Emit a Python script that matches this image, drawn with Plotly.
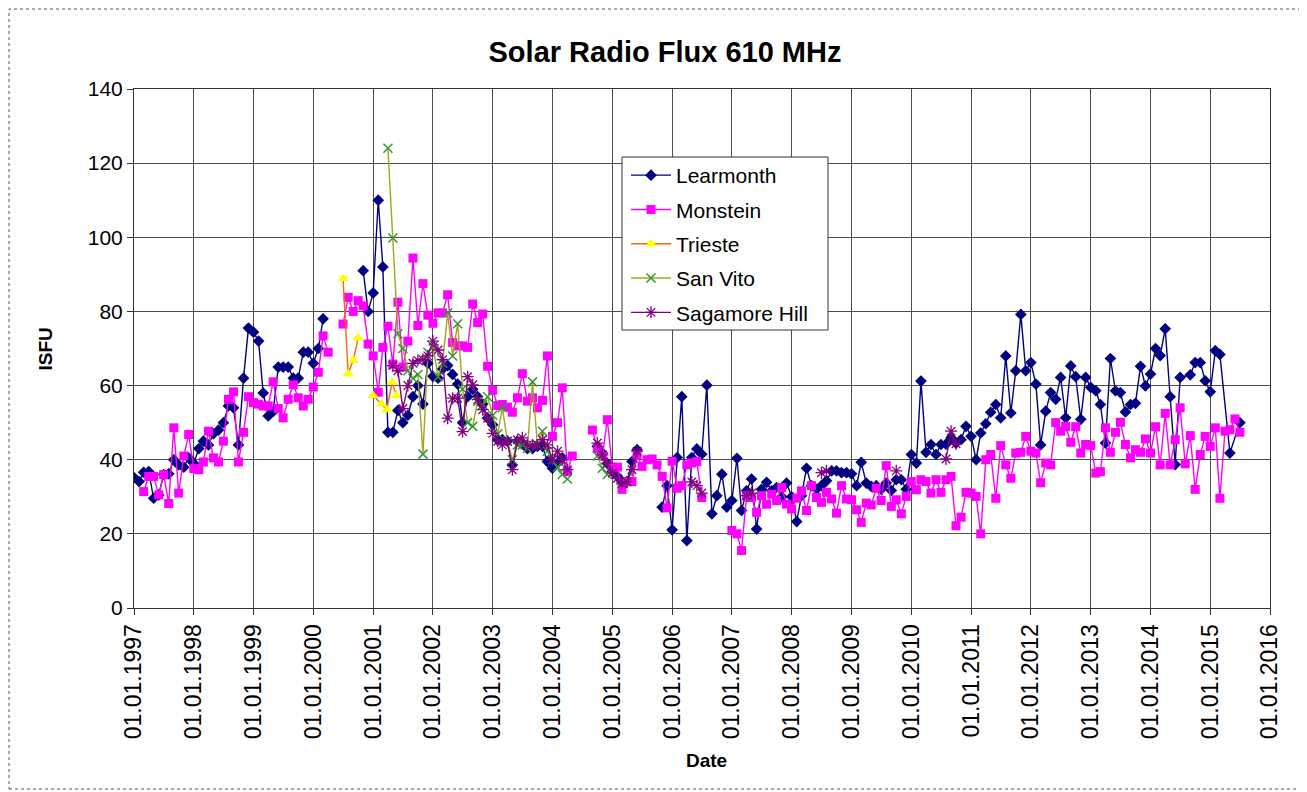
import plotly.graph_objects as go
import pandas as pd

B = None      # break in the line (no connection across)
S = "skip"    # month without a reading, line continues across it

# ---------------- data (ISFU) ----------------
learmonth_start = "1997-01-01"
learmonth = [
    35.2, 34.1, 36.6, 36.8, 29.6, 30.5, 36, 36.2, 40, 38.6, 38, 40.5,          # 1997
    39, 43, 45, 44, 47, 48, 50, 54.5, 54, 44, 62, 75.5,                       # 1998
    74.4, 72, 58, 51.8, 53, 65, 65, 65, 62, 62, 69, 69,                       # 1999
    66, 70, 78, B, B, B, B, B, B, B, 91, 80,                                  # 2000
    85, 110, 92, 47.4, 47.4, 53.3, 50, 52, 57, 60, 55, 66,                    # 2001
    62.5, 62, 64.5, 65.4, 63, 60.4, 50, 57, 59, 57, 55, 51.2,                 # 2002
    49.4, 45.4, 45.4, 45, 38.6, 45, 44.5, 43, 43, 43.6, 43.6, 39.5,           # 2003
    37.7, 39.1, 40.5, B, B, B, B, B, B, 43.6, 41.8, 39,                       # 2004
    36.8, 35.5, 34.1, 34.1, 39.5, 42.7, B, B, B, B, 27.2, 33,                 # 2005
    21.1, 40.6, 57, 18.2, 40.6, 42.9, 41.5, 60.1, 25.4, 30.3, 36.1, 27.2,     # 2006
    29, 40.4, 26.3, 31.6, 34.8, 21.3, 32, 33.9, 31.6, 32.5, 30, 33.7,         # 2007
    30, 23.3, 30.3, 37.7, 33, 32, 33, 34.3, 37, 37, 36.5, 36.5,               # 2008
    36.2, 33, 39.3, 33.7, 32.8, 33, 32, 33.7, 31.7, 34.6, 34.6, 32,           # 2009
    41.4, 39.1, 61.2, 42, 44.1, 41.4, 44.1, 44.2, 45.9, 44.5, 45.4, 49,       # 2010
    46.3, 40, 47.2, 49.7, 52.8, 54.9, 51.3, 68, 52.6, 64, 79.2, 64,           # 2011
    66.2, 60.4, 44, 53.1, 58.1, 56.3, 62.2, 51.3, 65.3, 62.4, 50.9, 62.2,     # 2012
    59.5, 58.6, 54.9, 44.5, 67.3, 58.6, 58.1, 52.9, 54.9, 55.2, 65.2, 59.9,   # 2013
    63.1, 70, 68.1, 75.3, 57, 38.7, 62.2, S, 62.9, 66.2, 66.2, 61.3,          # 2014
    58.3, 69.4, 68.4, S, 41.8, S, 50,                                         # 2015
]

monstein_start = "1997-01-01"
monstein = [
    B, B, 31.4, 35.5, 35.5, 30.5, 36, 28.2, 48.6, 31, 41, 46.8,               # 1997
    37.6, 37.3, 39.4, 47.7, 40.5, 39.4, 45, 56.3, 58.3, 39.4, 47.4, 57,       # 1998
    55.4, 55, 54.5, 54.5, 61, 53.8, 51.3, 56.3, 60.2, 56.7, 54.5, 56.3,       # 1999
    59.6, 63.6, 73.4, 69, B, B, 76.6, 83.8, 80, 82.9, 81.5, 71.2,             # 2000
    68, 58.2, 70.3, 76, 65.8, 82.5, 65, 72, 94.4, 76.2, 87.5, 79,             # 2001
    76.8, 79.6, 79.6, 84.5, 71.6, 70.7, 70.7, 70.3, 82, 77, 79.3, 65.2,       # 2002
    58.7, 54.6, 54.9, 54.2, 52.8, 56.7, 63.2, 55.8, 56.7, 54, 56, 68,         # 2003
    46.3, 50, 59.4, 36.8, 41, B, B, B, 48, 43, 41, 50.8,                      # 2004
    38, 38, 32, 34.1, 34.1, 41.3, 38.2, 40, 40.2, 38.6, 35.5, 27,             # 2005
    39.6, 32.3, 33, 38.6, 39.1, 39.5, 29.8, B, B, B, B, B,                    # 2006
    20.9, 20, 15.5, 30.3, 29.8, 25.8, 30.3, 28, 30.7, 29, 32.5, 28,           # 2007
    26.7, 29.6, 31.6, 26.3, 33, 29.8, 28.5, 31.2, 29.4, 25.6, 33, 29.4,       # 2008
    29.2, 26.5, 23.1, 28.3, 27.8, 32.3, 29, 38.4, 27.4, 29.2, 25.4, 30.1,     # 2009
    34.1, 31.9, 34.6, 34.1, 31, 34.6, 31.2, 34.6, 35.5, 22.2, 24.5, 31.2,     # 2010
    31, 30.1, 20, 40, 41.4, 29.6, 43.8, 38.6, 35, 41.8, 42, 46.3,             # 2011
    42.3, 41.8, 33.8, 39.1, 38.6, 50, 47.7, 49, 44.7, 48.9, 41.8, 44.1,       # 2012
    43.8, 36.4, 36.8, 48.6, 42, 47.4, 50.1, 44.1, 40.5, 42.7, 42, 45.6,       # 2013
    41.8, 48.9, 38.6, 52.5, 38.6, 45.4, 54, 38.9, 46.5, 32, 41.4, 46.3,       # 2014
    43.6, 48.6, 29.6, 47.7, 48.1, 51, 47.4,                                   # 2015
]

trieste_dates = ["2000-07-01", "2000-08-01", "2000-09-01", "2000-10-01", "2000-11-15",
                 "2001-01-01", "2001-02-20", "2001-03-25", "2001-04-27", "2001-05-22"]
trieste_vals = [88.9, 63.2, 66.8, 72.8, B, 57.3, 55, 53.5, 60.9, 57.3]

sanvito_dates = ["2001-04", "2001-05", "2001-06", "2001-07", "2001-08", "2001-09", "2001-10",
                 "2001-11", "2001-12", "2002-01", "2002-02", "2002-03", "2002-04", "2002-05",
                 "2002-06", "2002-07", "2002-08", "2002-09", "2002-10", "2002-11", "2002-12",
                 "2003-01", "2003-02", "2003-03", "2003-04", "2003-05", "2003-06", "2003-07",
                 "2003-08", "2003-09", "2003-10", "2003-11", "2003-12", "2004-01", "2004-02",
                 "2004-03", "2004-04", "2004-07", "2004-10", "2004-11", "2004-12"]
sanvito_vals = [124, 99.8, 74, 70, 64, 62, 63, 41.5, 69, 70.5, 62.4, 66, 79.6, 68,
                76.7, 59, 50, 49, 55.7, 54.8, 57, 52, 47, 54, 45, 40, 44, 44,
                43, 61, 44, 47.7, 42.3, 40, 38, 36, 34.8, B, 41, 37.7, 36]

sagamore_dates = ["2001-05", "2001-06", "2001-07", "2001-08", "2001-09", "2001-10", "2001-11",
                  "2001-12", "2002-01", "2002-02", "2002-03", "2002-04", "2002-05", "2002-06",
                  "2002-07", "2002-08", "2002-09", "2002-10", "2002-11", "2002-12", "2003-01",
                  "2003-02", "2003-03", "2003-04", "2003-05", "2003-06", "2003-07", "2003-08",
                  "2003-09", "2003-10", "2003-11", "2003-12", "2004-01", "2004-02", "2004-03",
                  "2004-04", "2004-07", "2004-10", "2004-11", "2004-12", "2005-01", "2005-02",
                  "2005-03", "2005-04", "2005-05", "2005-06", "2005-10", "2006-05", "2006-06",
                  "2006-07", "2006-10", "2007-04", "2007-05", "2007-10", "2008-07", "2008-08",
                  "2009-01", "2009-10", "2010-01", "2010-08", "2010-09", "2010-10"]
sagamore_vals = [65.4, 64, 53.8, 60, 66, 66.8, 67, 68, 72, 69.6, 67, 51.2, 56.6, 56.6,
                 47.6, 62.4, 60.2, 56.2, 53.5, 51.2, 47.1, 45, 44, 45, 37.3, 45.4, 45.9, 44,
                 44, 44, 45.4, 44, 40, 42.3, 40, 37.3, B, 44.5, 41.3, 39, 36.4, 35,
                 33.5, 34, 37.3, 42.3, B, 34, 33, 31, B, 30.3, 31, B, 36.5, 37,
                 B, 37, B, 40.2, 47.7, 44.3]


def monthly(start, vals):
    dates = pd.date_range(start, periods=len(vals), freq="MS")
    xs, ys = [], []
    for d, v in zip(dates, vals):
        if isinstance(v, str):
            continue
        xs.append(d)
        ys.append(v)
    return xs, ys


FONT = "Liberation Sans, Arial, sans-serif"

fig = go.Figure()

lx, ly = monthly(learmonth_start, learmonth)
mx, my = monthly(monstein_start, monstein)

series = [
    dict(name="Learmonth", x=lx, y=ly, line=dict(color="#000080", width=1.4),
         marker=dict(symbol="diamond", size=9, color="#000080", line=dict(width=0))),
    dict(name="Monstein", x=mx, y=my, line=dict(color="#FF00FF", width=1.4),
         marker=dict(symbol="square", size=9, color="#FF00FF", line=dict(width=0))),
    dict(name="Trieste", x=trieste_dates, y=trieste_vals, line=dict(color="#FF6600", width=1.4),
         marker=dict(symbol="triangle-up", size=10, color="#FFFF00", line=dict(width=0))),
    dict(name="San Vito", x=sanvito_dates, y=sanvito_vals, line=dict(color="#A3A31F", width=1.4),
         marker=dict(symbol="x-thin", size=9, color="#339933", line=dict(width=1.5, color="#339933"))),
    dict(name="Sagamore Hill", x=sagamore_dates, y=sagamore_vals, line=dict(color="#800080", width=1.4),
         marker=dict(symbol="asterisk", size=10, color="#800080", line=dict(width=1.3, color="#800080"))),
]

for i, s in enumerate(series):
    fig.add_trace(go.Scatter(mode="lines+markers", connectgaps=False,
                             legendgroup=f"g{i}", **s))

# page offset of the plot div (body margin) and target pixel geometry of the page
OFF = 8
PL, PR, PT, PB = 134, 1270, 89, 608          # plot area on the page
W, H = 1307 - OFF, 792 - OFF
L, T = PL - OFF, PT - OFF
R, Bm = W - (PR - OFF), H - (PB - OFF)
pw, ph = W - L - R, H - T - Bm


def px_x(p):
    return (p - PL) / pw


def px_y(p):
    return (PB - p) / ph


fig.update_layout(
    width=W, height=H,
    margin=dict(l=L, r=R, t=T, b=Bm),
    paper_bgcolor="white", plot_bgcolor="white",
    font=dict(family=FONT, color="black"),
    title=dict(text="<b>Solar Radio Flux 610 MHz</b>", x=px_x(665), xanchor="center", xref="paper",
               y=1 - (52 - OFF) / H, yanchor="middle", font=dict(size=29, family=FONT)),
    showlegend=True,
    legend=dict(x=px_x(626), y=px_y(155), xanchor="left", yanchor="top",
                borderwidth=0, bgcolor="rgba(0,0,0,0)", itemwidth=40,
                font=dict(size=21, family=FONT), traceorder="grouped", tracegroupgap=4),
    xaxis=dict(type="date", range=["1997-01-01", "2016-01-01"],
               tick0="1997-01-01", dtick="M12", tickformat="%d.%m.%Y",
               tickangle=-90, ticks="outside", ticklen=6, tickcolor="#333",
               tickfont=dict(size=23, family=FONT),
               showgrid=True, gridcolor="#4d4d4d", gridwidth=1,
               showline=True, linecolor="#333333", linewidth=1, mirror=True,
               zeroline=False),
    yaxis=dict(range=[0, 140], dtick=20, ticks="outside", ticklen=6, tickcolor="#333",
               tickfont=dict(size=21, family=FONT),
               showgrid=True, gridcolor="#4d4d4d", gridwidth=1,
               showline=True, linecolor="#333333", linewidth=1, mirror=True,
               zeroline=False),
    annotations=[
        dict(text="<b>ISFU</b>", xref="paper", yref="paper", x=px_x(45), y=0.5,
             xanchor="center", yanchor="middle",
             textangle=-90, showarrow=False, font=dict(size=19, family=FONT)),
        dict(text="<b>Date</b>", xref="paper", yref="paper", x=px_x(706), y=px_y(760),
             xanchor="center", yanchor="middle",
             showarrow=False, font=dict(size=19, family=FONT)),
    ],
    shapes=[
        dict(type="rect", xref="paper", yref="paper",
             x0=px_x(OFF + 1), x1=px_x(1303), y0=px_y(789), y1=px_y(OFF + 1),
             line=dict(color="#555555", width=1, dash="dot"), layer="below"),
        dict(type="rect", xref="paper", yref="paper",
             x0=px_x(622), x1=px_x(828), y0=px_y(330), y1=px_y(157),
             fillcolor="white", line=dict(color="#333333", width=1), layer="above"),
    ],
)

fig.write_html("out.html")
